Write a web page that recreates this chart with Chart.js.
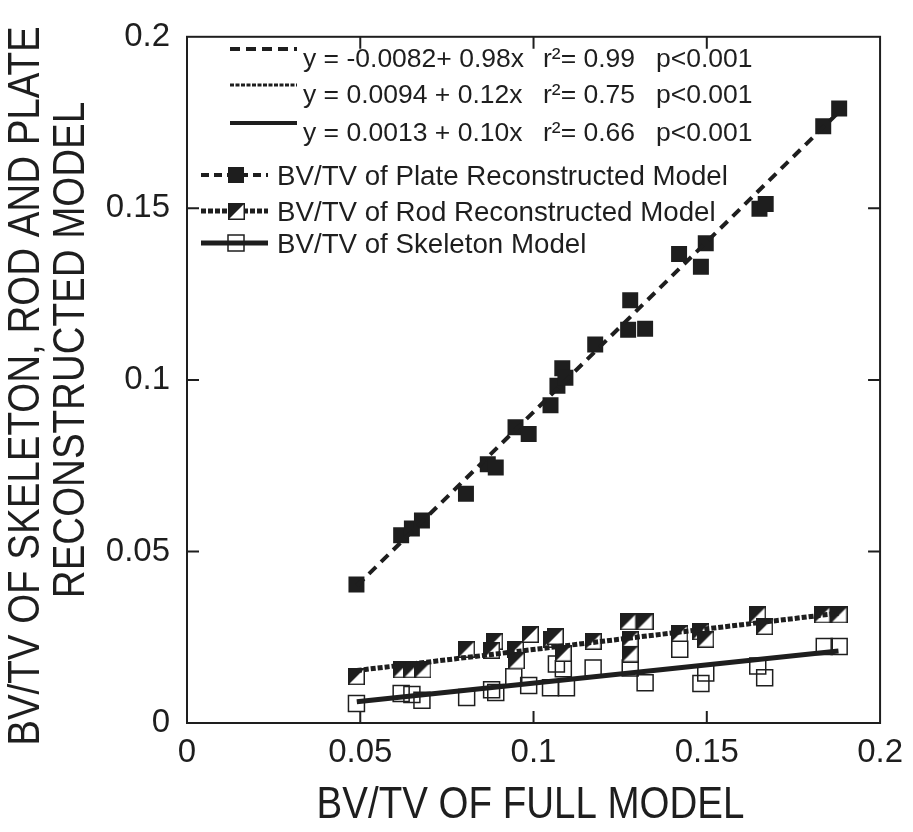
<!DOCTYPE html>
<html>
<head>
<meta charset="utf-8">
<script src="https://cdn.jsdelivr.net/npm/chart.js@4.4.1/dist/chart.umd.min.js"></script>
<style>
  html, body { margin: 0; padding: 0; background: #fff; }
  #wrap { width: 913px; height: 832px; }
</style>
</head>
<body>
<div id="wrap"><canvas id="chart" width="913" height="832"></canvas></div>
<script>
// values
const plateX = [0.0489, 0.0618, 0.0649, 0.0678, 0.0805, 0.0868, 0.0891, 0.0948, 0.0986, 0.1049, 0.1069, 0.1083, 0.1092, 0.1178, 0.1279, 0.1273, 0.1322, 0.1420, 0.1483, 0.1497, 0.1652, 0.1670, 0.1836, 0.1882];
const plateY = [0.0404, 0.0547, 0.0567, 0.0590, 0.0668, 0.0754, 0.0745, 0.0862, 0.0842, 0.0926, 0.0983, 0.1034, 0.1006, 0.1103, 0.1232, 0.1146, 0.1149, 0.1367, 0.1330, 0.1398, 0.1499, 0.1513, 0.1739, 0.1791];

const rodX = [0.0489, 0.0618, 0.0649, 0.0681, 0.0807, 0.0888, 0.0879, 0.0948, 0.0951, 0.0991, 0.1052, 0.1063, 0.1086, 0.1172, 0.1273, 0.1322, 0.1279, 0.1279, 0.1422, 0.1483, 0.1497, 0.1647, 0.1667, 0.1833, 0.1882];
const rodY = [0.0135, 0.0155, 0.0155, 0.0155, 0.0215, 0.0238, 0.0212, 0.0215, 0.0181, 0.0258, 0.0244, 0.0252, 0.0203, 0.0238, 0.0295, 0.0295, 0.0244, 0.0201, 0.0261, 0.0266, 0.0244, 0.0315, 0.0281, 0.0315, 0.0315];

const skelX = [0.0489, 0.0618, 0.0649, 0.0678, 0.0807, 0.0879, 0.0891, 0.0943, 0.0986, 0.1049, 0.1066, 0.1086, 0.1095, 0.1172, 0.1279, 0.1322, 0.1422, 0.1483, 0.1497, 0.1647, 0.1667, 0.1839, 0.1882];
const skelY = [0.0057, 0.0086, 0.0083, 0.0066, 0.0074, 0.0097, 0.0089, 0.0135, 0.0109, 0.0103, 0.0172, 0.0158, 0.0103, 0.0160, 0.0160, 0.0117, 0.0215, 0.0115, 0.0146, 0.0166, 0.0132, 0.0223, 0.0223];

// fitted lines, end points
const plateFitX = [0.049, 0.189];
const plateFitY = [0.040, 0.179];
const rodFitX = [0.049, 0.188];
const rodFitY = [0.0153, 0.0320];
const skelFitX = [0.049, 0.188];
const skelFitY = [0.0062, 0.0210];

const xTickLabels = ['0', '0.05', '0.1', '0.15', '0.2'];
const yTickLabels = ['0', '0.05', '0.1', '0.15', '0.2'];

const xTitle = 'BV/TV OF FULL MODEL';
const yTitle = ['BV/TV OF SKELETON, ROD AND PLATE', 'RECONSTRUCTED MODEL'];

const fitText = [
  ['y = -0.0082+ 0.98x', 'r\u00B2= 0.99', 'p<0.001'],
  ['y = 0.0094 + 0.12x', 'r\u00B2= 0.75', 'p<0.001'],
  ['y = 0.0013 + 0.10x', 'r\u00B2= 0.66', 'p<0.001']
];
const seriesNames = ['BV/TV of Plate Reconstructed Model', 'BV/TV of Rod Reconstructed Model', 'BV/TV of Skeleton Model'];

const ink = '#1e1e1e';
const sans = "'Liberation Sans', Arial, sans-serif";

function pts(xs, ys) {
  return xs.map((x, i) => ({x: x, y: ys[i]}));
}

// half filled square marker
function halfSquare(size) {
  const c = document.createElement('canvas');
  c.width = size; c.height = size;
  const g = c.getContext('2d');
  g.fillStyle = '#fff';
  g.fillRect(0, 0, size, size);
  g.fillStyle = ink;
  g.beginPath();
  g.moveTo(0, 0); g.lineTo(size, 0); g.lineTo(0, size);
  g.closePath(); g.fill();
  g.strokeStyle = ink;
  g.lineWidth = 1.5;
  g.strokeRect(0.75, 0.75, size - 1.5, size - 1.5);
  return c;
}
const rodMarker = halfSquare(17);

// narrow looking axis titles: squeeze the text horizontally
function squeezedText(ctx, text, x, y, rot) {
  ctx.save();
  ctx.translate(x, y);
  ctx.rotate(rot);
  ctx.scale(0.875, 1);
  ctx.fillText(text, 0, 0);
  ctx.restore();
}

const frameAndLegend = {
  id: 'frameAndLegend',
  afterDraw(chart) {
    const ctx = chart.ctx;
    const a = chart.chartArea;
    const xs = chart.scales.x, ys = chart.scales.y;
    ctx.save();
    ctx.strokeStyle = ink;
    ctx.lineWidth = 2;
    ctx.strokeRect(a.left, a.top, a.right - a.left, a.bottom - a.top);
    // inward ticks on all four sides
    const tl = 12;
    ctx.beginPath();
    [0.05, 0.1, 0.15].forEach(v => {
      const px = xs.getPixelForValue(v);
      ctx.moveTo(px, a.bottom); ctx.lineTo(px, a.bottom - tl);
      ctx.moveTo(px, a.top); ctx.lineTo(px, a.top + tl);
      const py = ys.getPixelForValue(v);
      ctx.moveTo(a.left, py); ctx.lineTo(a.left + tl, py);
      ctx.moveTo(a.right, py); ctx.lineTo(a.right - tl, py);
    });
    ctx.stroke();

    // axis titles
    ctx.fillStyle = ink;
    ctx.font = '44px ' + sans;
    ctx.textAlign = 'center';
    ctx.textBaseline = 'middle';
    squeezedText(ctx, xTitle, (a.left + a.right) / 2 - 3, 806, 0);
    squeezedText(ctx, yTitle[0], 27, 386, -Math.PI / 2);
    squeezedText(ctx, yTitle[1], 72, 350, -Math.PI / 2);

    // legend
    ctx.textBaseline = 'alphabetic';
    ctx.textAlign = 'left';
    ctx.font = '26.5px ' + sans;
    const fitRows = [67, 103, 141];
    const fitDash = [[10, 6], [4, 1.5], []];
    const fitWidth = [4, 3, 4];
    fitRows.forEach((b, i) => {
      ctx.setLineDash(fitDash[i]);
      ctx.lineWidth = fitWidth[i];
      ctx.beginPath();
      ctx.moveTo(230, b - 18); ctx.lineTo(297, b - 18);
      ctx.stroke();
      ctx.setLineDash([]);
      ctx.fillText(fitText[i][0], 303, b);
      ctx.fillText(fitText[i][1], 543, b);
      ctx.fillText(fitText[i][2], 656, b);
    });
    ctx.font = '27.7px ' + sans;
    const serRows = [185, 221, 253];
    const serDash = [[8, 5], [5, 2], []];
    const serWidth = [4, 5, 5];
    serRows.forEach((b, i) => {
      const cy = b - 10;
      ctx.setLineDash(serDash[i]);
      ctx.lineWidth = serWidth[i];
      ctx.beginPath();
      ctx.moveTo(201, cy); ctx.lineTo(268, cy);
      ctx.stroke();
      ctx.setLineDash([]);
      if (i === 0) {
        ctx.fillRect(228, cy - 8, 16, 16);
      } else if (i === 1) {
        ctx.drawImage(rodMarker, 228, cy - 8);
      } else {
        ctx.lineWidth = 1.5;
        ctx.strokeRect(228, cy - 8, 16, 16);
      }
      ctx.fillText(seriesNames[i], 277, b);
    });
    ctx.restore();
  }
};

new Chart(document.getElementById('chart'), {
  type: 'scatter',
  data: {
    datasets: [
      {
        label: 'skeleton fit', type: 'line', data: pts(skelFitX, skelFitY),
        borderColor: ink, borderWidth: 5, pointRadius: 0, fill: false
      },
      {
        label: 'rod fit', type: 'line', data: pts(rodFitX, rodFitY),
        borderColor: ink, borderWidth: 5, borderDash: [5, 2], pointRadius: 0, fill: false
      },
      {
        label: 'plate fit', type: 'line', data: pts(plateFitX, plateFitY),
        borderColor: ink, borderWidth: 4, borderDash: [10, 7], pointRadius: 0, fill: false
      },
      {
        label: seriesNames[0], data: pts(plateX, plateY),
        pointStyle: 'rect', pointRadius: 11.3, backgroundColor: ink, borderColor: ink, borderWidth: 0
      },
      {
        label: seriesNames[1], data: pts(rodX, rodY),
        pointStyle: rodMarker, pointRadius: 9
      },
      {
        label: seriesNames[2], data: pts(skelX, skelY),
        pointStyle: 'rect', pointRadius: 11.3, backgroundColor: 'rgba(0,0,0,0)', borderColor: ink, borderWidth: 1.5
      }
    ]
  },
  options: {
    responsive: false,
    animation: false,
    devicePixelRatio: 1,
    layout: { padding: { left: 0, right: 30, top: 25, bottom: 0 } },
    plugins: {
      legend: { display: false },
      tooltip: { enabled: false }
    },
    scales: {
      x: {
        type: 'linear', min: 0, max: 0.2,
        ticks: {
          stepSize: 0.05, maxRotation: 0, padding: 10, color: ink,
          font: { size: 33, family: sans },
          callback: (v, i) => xTickLabels[i]
        },
        grid: { display: false, drawTicks: false },
        border: { display: false },
        afterFit: s => { s.height = 109; }
      },
      y: {
        type: 'linear', min: 0, max: 0.2,
        ticks: {
          stepSize: 0.05, padding: 17, color: ink,
          font: { size: 33, family: sans },
          callback: (v, i) => yTickLabels[i]
        },
        grid: { display: false, drawTicks: false },
        border: { display: false },
        afterFit: s => { s.width = 187; }
      }
    }
  },
  plugins: [frameAndLegend]
});
</script>
</body>
</html>
